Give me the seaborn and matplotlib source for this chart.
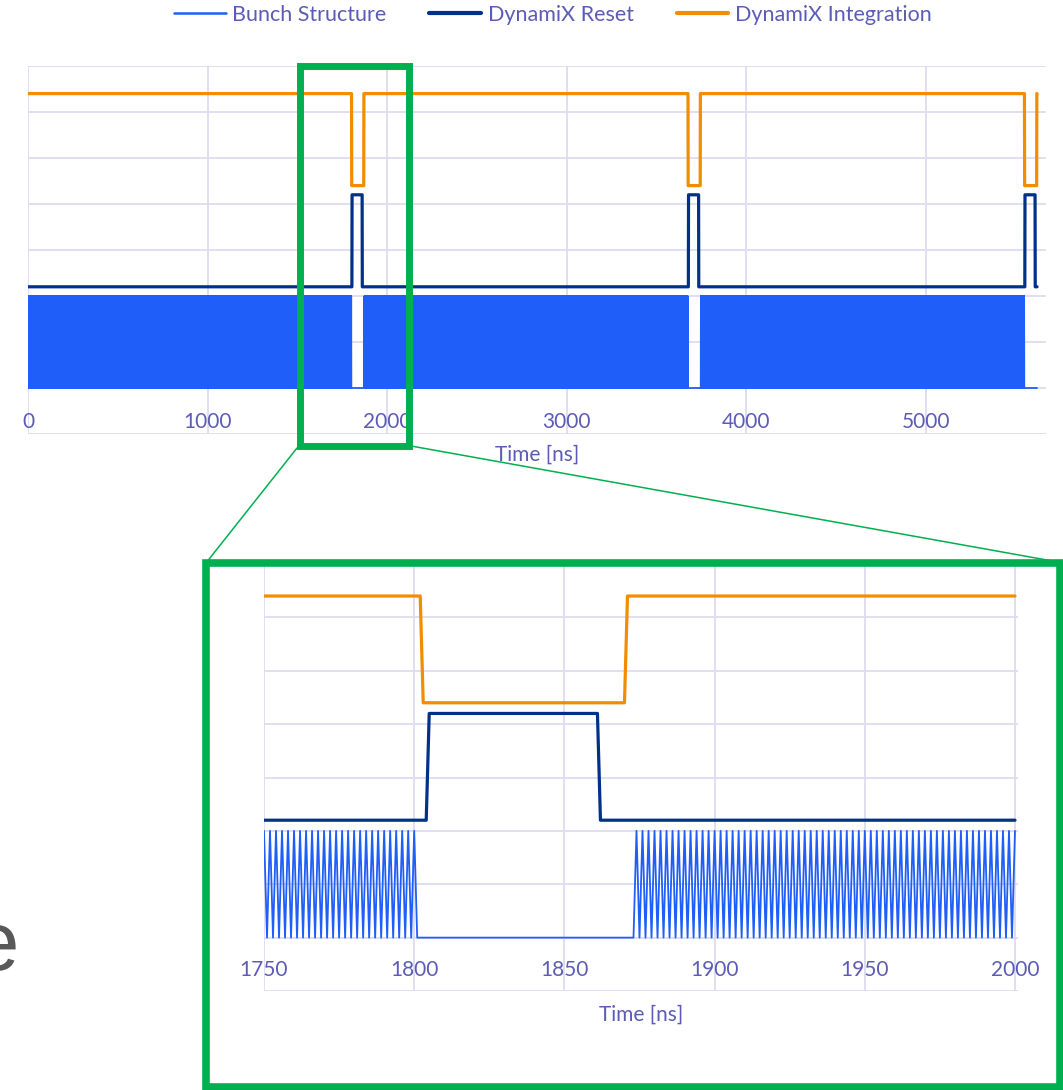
import numpy as np
import pandas as pd
import seaborn as sns
import matplotlib.pyplot as plt
from matplotlib.patches import Rectangle
from matplotlib.lines import Line2D

# time axis [ns], sampled every 1 ns
t_first, t_last = 0, 5620

# bunch trains (one bunch every 2 ns), one train per turn
train_start = [0, 1874, 3748]
train_stop = [1800, 3674, 5548]
bunch_spacing = 2

# DynamiX reset pulse (high) and integration gap (low), one per turn
reset_start = [1805, 3679, 5553]
reset_stop = [1861, 3735, 5609]
integ_start = [1803, 3677, 5551]
integ_stop = [1870, 3744, 5618]

# signal levels (offset so the traces stack)
bunch_levels = [0.0, 1.0]
reset_levels = [1.1, 2.1]
integ_levels = [2.2, 3.2]

names = ['Bunch Structure', 'DynamiX Reset', 'DynamiX Integration']
colors = ['#1f5ef8', '#003087', '#f28c00']
widths = [1.3, 2.3, 2.3]

top_ticks = [0, 1000, 2000, 3000, 4000, 5000]
zoom_ticks = [1750, 1800, 1850, 1900, 1950, 2000]

txt = '#5c5cb6'
grid_c = '#dcdcf0'
green = '#00b050'

# build the step signals from the edges above
t = np.arange(t_first, t_last + 1)
bunch = np.full(t.shape, bunch_levels[0])
for a, b in zip(train_start, train_stop):
    bunch[(t >= a) & (t <= b) & ((t - a) % bunch_spacing == 0)] = bunch_levels[1]
reset = np.full(t.shape, reset_levels[0])
for a, b in zip(reset_start, reset_stop):
    reset[(t >= a) & (t <= b)] = reset_levels[1]
integ = np.full(t.shape, integ_levels[1])
for a, b in zip(integ_start, integ_stop):
    integ[(t >= a) & (t <= b)] = integ_levels[0]

df = pd.concat([
    pd.DataFrame({'time': t, 'value': v, 'signal': n})
    for v, n in zip([bunch, reset, integ], names)
])

sns.set_style('white')
plt.rcParams['font.family'] = ['Lato', 'DejaVu Sans']

W, H = 1063, 1090
fig = plt.figure(figsize=(W / 100, H / 100), dpi=100)


def px_rect(l, t_, r, b):
    return [l / W, 1 - b / H, (r - l) / W, (b - t_) / H]


ax_top = fig.add_axes(px_rect(28, 66, 1046, 434))
ax_zoom = fig.add_axes(px_rect(264, 564, 1018, 991))


def draw(ax, sub):
    for n, c, w in zip(names, colors, widths):
        sns.lineplot(data=sub[sub['signal'] == n], x='time', y='value',
                     color=c, linewidth=w, estimator=None, sort=False,
                     ax=ax, label=n)
    ax.get_legend().remove()


def style(ax, ticks, xlim, pad, labelpad):
    ax.set_xlim(xlim)
    ax.set_ylim(-0.5, 3.5)
    ax.set_xticks(ticks)
    ax.set_yticks(np.arange(-0.5, 3.51, 0.5))
    ax.set_yticklabels([])
    ax.tick_params(axis='y', length=0)
    ax.tick_params(axis='x', length=0, pad=pad, labelsize=15, labelcolor=txt)
    ax.grid(True, color=grid_c, linewidth=1.3)
    ax.set_axisbelow(True)
    for s in ax.spines.values():
        s.set_visible(False)
    ax.set_xlabel('Time [ns]', color=txt, fontsize=15, labelpad=labelpad)
    ax.set_ylabel('')


draw(ax_top, df)
draw(ax_zoom, df[(df['time'] >= 1750) & (df['time'] <= 2000)])
style(ax_top, top_ticks, (0, 5670), -16, 8)
style(ax_zoom, zoom_ticks, (1750, 2001), -22, 10)

handles = [Line2D([], [], color=c, linewidth=w)
           for c, w in zip(colors, [1.8, 3.0, 3.0])]
fig.legend(handles=handles, labels=names, loc='center',
           bbox_to_anchor=(0.52, 1 - 15 / H), ncol=3, frameon=False,
           fontsize=15.5, labelcolor=txt, handlelength=2.4,
           handletextpad=0.3, columnspacing=2.0)


def fx(x):
    return x / W


def fy(y):
    return 1 - y / H


# zoom callout boxes and connectors
fig.add_artist(Rectangle((fx(299.5), fy(445.5)), (409 - 299.5) / W, (445.5 - 65.5) / H,
                         transform=fig.transFigure, fill=False, edgecolor=green,
                         linewidth=5, zorder=10))
fig.add_artist(Rectangle((fx(206), fy(1087)), (1060 - 206) / W, (1087 - 563) / H,
                         transform=fig.transFigure, fill=False, edgecolor=green,
                         linewidth=5.5, zorder=10))
fig.add_artist(Line2D([fx(297), fx(206)], [fy(448), fy(563)],
                      transform=fig.transFigure, color=green, linewidth=1.1, zorder=9))
fig.add_artist(Line2D([fx(411), fx(1058)], [fy(446), fy(562)],
                      transform=fig.transFigure, color=green, linewidth=1.1, zorder=9))

# leftover slide text, cut by the left edge as in the slide
fig.text(fx(19), fy(970), 'e', ha='right', va='baseline', fontsize=60,
         color='#595959', family=['Liberation Sans', 'DejaVu Sans'])

fig.savefig('out.png', dpi=100)
